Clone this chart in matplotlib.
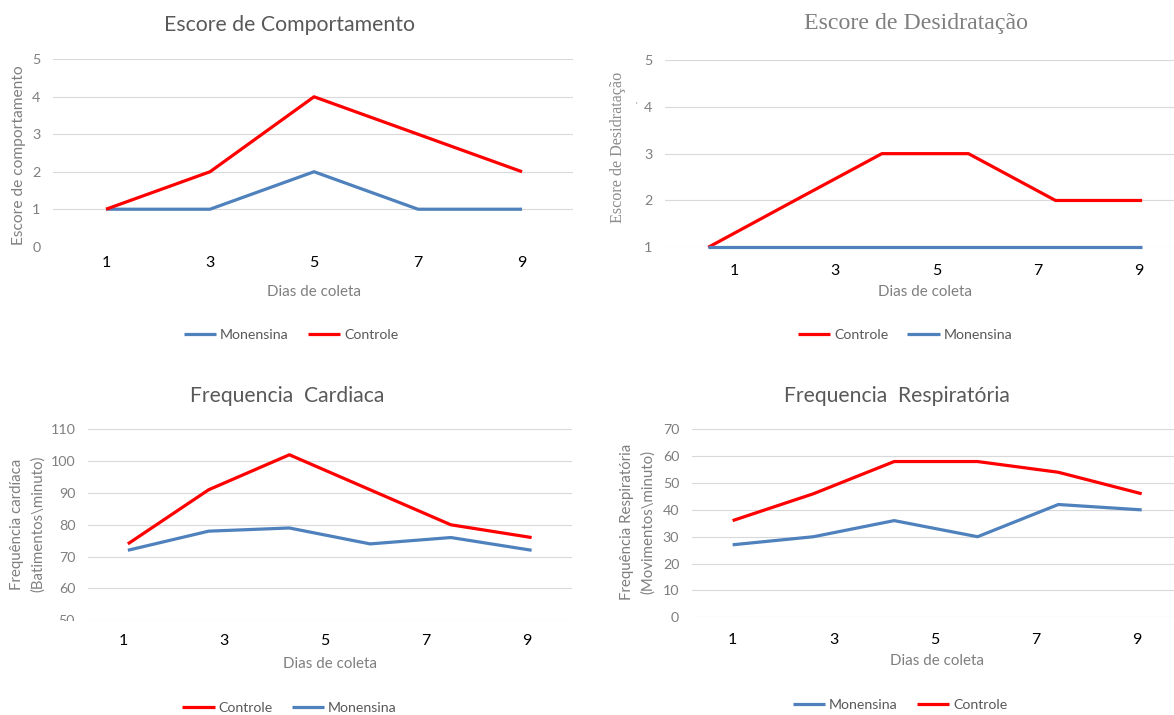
import numpy as np
import matplotlib.pyplot as plt
from matplotlib.transforms import Bbox, TransformedBbox

# dados das coletas
dias_comp = [1, 3, 5, 7, 9]
comp_monensina = [1, 1, 2, 1, 1]
comp_controle = [1, 2, 4, 3, 2]

dias_desid = [0.49, 2.2, 3.92, 5.63, 7.35, 9.06]
desid_controle = [1, 2, 3, 3, 2, 2]
desid_monensina = [1, 1, 1, 1, 1, 1]

dias_card = [1.1, 2.7, 4.3, 5.9, 7.5, 9.1]
card_controle = [74, 91, 102, 91, 80, 76]
card_monensina = [72, 78, 79, 74, 76, 72]

dias_resp = [1.0, 2.6, 4.2, 5.85, 7.45, 9.1]
resp_controle = [36, 46, 58, 58, 54, 46]
resp_monensina = [27, 30, 36, 30, 42, 40]

dias_ticks = [1, 3, 5, 7, 9]

W, H = 1174, 715
AZUL = '#4F81BD'
VERMELHO = '#FF0000'
CINZA = '#595959'
CINZA_CLARO = '#7F7F7F'
SANS = 'Lato'
SERIF = 'Liberation Serif'

plt.rcParams['font.family'] = [SANS, 'DejaVu Sans']

fig = plt.figure(figsize=(W / 100, H / 100), dpi=100)


def painel(x0, x1, y0, y1):
    # eixos posicionados em pixels da figura
    ax = fig.add_axes([x0 / W, 1 - y1 / H, (x1 - x0) / W, (y1 - y0) / H])
    for s in ax.spines.values():
        s.set_visible(False)
    ax.grid(axis='y', color='#D9D9D9', linewidth=0.8)
    ax.set_axisbelow(True)
    ax.tick_params(axis='y', length=0, pad=9, labelsize=10.3, labelcolor=CINZA_CLARO)
    ax.tick_params(axis='x', length=0, labelsize=11.5, labelcolor='black')
    ax.set_xticks(dias_ticks)
    return ax


def linha(ax, x, y, cor, rotulo):
    l, = ax.plot(x, y, color=cor, lw=2.3, solid_joinstyle='round',
                 solid_capstyle='butt', clip_on=False, label=rotulo)
    return l


def fig_text(x, y, s, **kw):
    return fig.text(x / W, 1 - y / H, s, **kw)


def legenda(ax, linhas, cx, cy):
    ax.legend(handles=linhas, loc='center', bbox_to_anchor=(cx / W, 1 - cy / H),
              bbox_transform=fig.transFigure, ncol=2, frameon=False, fontsize=10.2,
              handlelength=2.3, handletextpad=0.25, columnspacing=1.35,
              borderpad=0, labelcolor=CINZA)


# Escore de Comportamento
ax1 = painel(53, 573, 59.3, 246.7)
l_mon = linha(ax1, dias_comp, comp_monensina, AZUL, 'Monensina')
l_con = linha(ax1, dias_comp, comp_controle, VERMELHO, 'Controle')
ax1.set_ylim(0, 5)
ax1.set_xlim(-0.02, 9.98)
ax1.set_yticks(range(0, 6))
ax1.get_ygridlines()[0].set_visible(False)
ax1.tick_params(axis='x', pad=7)
fig_text(289, 25, 'Escore de Comportamento', fontsize=15.3, color=CINZA, ha='center', va='center')
fig_text(19, 155, 'Escore de comportamento', fontsize=11.2, color=CINZA_CLARO,
         rotation=90, ha='center', va='center')
fig_text(314, 292, 'Dias de coleta', fontsize=10.9, color=CINZA_CLARO, ha='center', va='center')
legenda(ax1, [l_mon, l_con], 291, 335)

# Escore de Desidratacao
ax2 = painel(665, 1174, 60, 247.3)
l_con = linha(ax2, dias_desid, desid_controle, VERMELHO, 'Controle')
l_mon = linha(ax2, dias_desid, desid_monensina, AZUL, 'Monensina')
ax2.set_ylim(1, 5)
ax2.set_xlim(-0.364, 9.69)
ax2.set_yticks(range(1, 6))
ax2.tick_params(axis='x', pad=12)
fig_text(916, 23, 'Escore de Desidratação', fontsize=17.2, color=CINZA_CLARO, family=SERIF,
         ha='center', va='center')
fig_text(617.5, 147, 'Escore de Desidratação', fontsize=11.6, color='#8C8C8C', family=SERIF,
         rotation=90, ha='center', va='center')
fig_text(636, 106, "'", fontsize=6, color=CINZA_CLARO, ha='center', va='center')
fig_text(925, 292, 'Dias de coleta', fontsize=10.9, color=CINZA_CLARO, ha='center', va='center')
legenda(ax2, [l_con, l_mon], 905, 335)

# Frequencia Cardiaca
ax3 = painel(88, 572, 429.3, 620.3)
l_con = linha(ax3, dias_card, card_controle, VERMELHO, 'Controle')
l_mon = linha(ax3, dias_card, card_monensina, AZUL, 'Monensina')
ax3.set_ylim(50, 110)
ax3.set_xlim(0.31, 9.9)
ax3.set_yticks(range(50, 111, 10))
ax3.set_yticklabels([''] + [str(v) for v in range(60, 111, 10)])
ax3.tick_params(axis='x', pad=10)
# rotulo 50 cortado na base
t50 = ax3.text(-13 / 484, 50, '50', transform=ax3.get_yaxis_transform(), fontsize=10.3,
               color=CINZA_CLARO, ha='right', va='center_baseline')
t50.set_clip_box(TransformedBbox(Bbox.from_extents(0, 1 - 621 / H, 0.2, 1), fig.transFigure))
t50.set_clip_on(True)
fig_text(287, 396, 'Frequencia  Cardiaca', fontsize=15.2, color=CINZA, ha='center', va='center')
fig_text(17.5, 524, 'Frequência cardíaca', fontsize=10.8, color=CINZA_CLARO,
         rotation=90, ha='center', va='center')
fig_text(37.5, 524, '(Batimentos\\minuto)', fontsize=10.8, color=CINZA_CLARO,
         rotation=90, ha='center', va='center')
fig_text(330, 664, 'Dias de coleta', fontsize=10.9, color=CINZA_CLARO, ha='center', va='center')
legenda(ax3, [l_con, l_mon], 289.5, 708)

# Frequencia Respiratoria
ax4 = painel(691.7, 1174, 429.3, 617.3)
l_mon = linha(ax4, dias_resp, resp_monensina, AZUL, 'Monensina')
l_con = linha(ax4, dias_resp, resp_controle, VERMELHO, 'Controle')
ax4.set_ylim(0, 70)
ax4.set_xlim(0.19, 9.74)
ax4.set_yticks(range(0, 71, 10))
ax4.tick_params(axis='x', pad=11)
fig_text(897, 396, 'Frequencia  Respiratória', fontsize=15.2, color=CINZA, ha='center', va='center')
fig_text(627.5, 522, 'Frequência Respiratória', fontsize=10.8, color=CINZA_CLARO,
         rotation=90, ha='center', va='center')
fig_text(647.5, 522, '(Movimentos\\minuto)', fontsize=10.8, color=CINZA_CLARO,
         rotation=90, ha='center', va='center')
fig_text(936.5, 661, 'Dias de coleta', fontsize=10.9, color=CINZA_CLARO, ha='center', va='center')
legenda(ax4, [l_mon, l_con], 900, 705)

fig.savefig('out.png', dpi=100)
